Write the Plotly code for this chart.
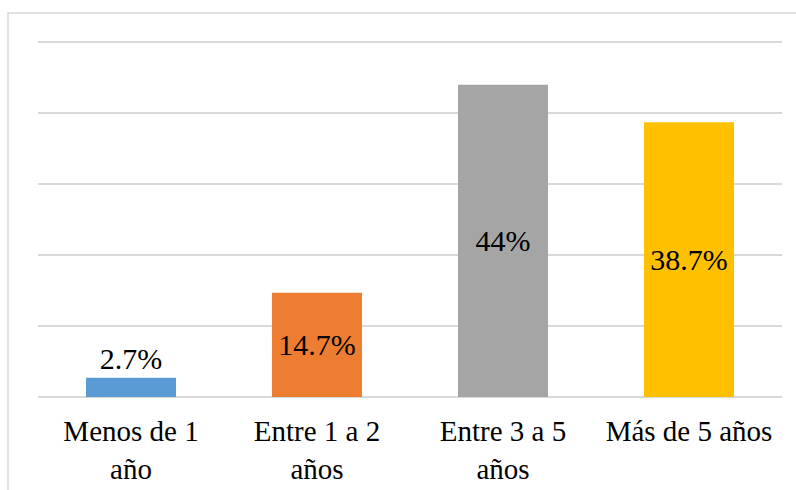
import plotly.graph_objects as go

categories = ["Menos de 1<br>año", "Entre 1 a 2<br>años", "Entre 3 a 5<br>años", "Más de 5 años"]
values = [2.7, 14.7, 44.0, 38.7]
labels = ["2.7%", "14.7%", "44%", "38.7%"]
colors = ["#5B9BD5", "#ED7D31", "#A5A5A5", "#FFC000"]
text_positions = ["outside", "inside", "inside", "inside"]

FONT = "Liberation Serif"

fig = go.Figure(
    go.Bar(
        x=categories,
        y=values,
        marker=dict(color=colors, line=dict(width=0)),
        text=labels,
        textposition=text_positions,
        insidetextanchor="middle",
        textfont=dict(family=FONT, size=30, color="black"),
        insidetextfont=dict(family=FONT, size=30, color="black"),
        outsidetextfont=dict(family=FONT, size=30, color="black"),
        cliponaxis=False,
        textangle=0,
    )
)

L, R, T, B = 38, 14, 35, 93
W, H = 796, 490
pw, ph = W - L - R, H - T - B

fig.add_shape(
    type="rect",
    xref="paper", yref="paper",
    x0=(8 - L) / pw, x1=(W + 10 - L) / pw,
    y0=-(H + 10 - (H - B)) / ph, y1=((H - B) - 13) / ph,
    line=dict(color="#d9d9d9", width=1.5),
    fillcolor="rgba(0,0,0,0)",
    layer="below",
)

fig.update_layout(
    width=W, height=H,
    margin=dict(l=L, r=R, t=T, b=B),
    paper_bgcolor="white",
    plot_bgcolor="white",
    bargap=0.516,
    showlegend=False,
    font=dict(family=FONT, size=29, color="black"),
    xaxis=dict(
        showgrid=False, showline=False, zeroline=False,
        tickfont=dict(family=FONT, size=29, color="black"),
        ticks="", ticklabelstandoff=14, automargin=False,
    ),
    yaxis=dict(
        range=[0, 51], tickvals=[0, 10, 20, 30, 40, 50],
        showgrid=True, gridcolor="#d9d9d9", gridwidth=1.5,
        zeroline=True, zerolinecolor="#d9d9d9", zerolinewidth=1.5,
        showticklabels=False, showline=False, ticks="", automargin=False,
    ),
)

fig.write_html(
    "out.html",
    config={"displayModeBar": False},
    post_script="document.body.style.margin='0';document.body.style.overflow='hidden';",
)
